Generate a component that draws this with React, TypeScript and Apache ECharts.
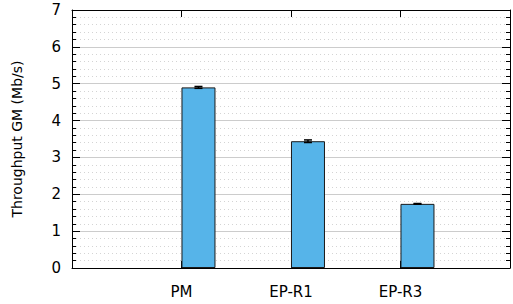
import React, { useEffect, useRef } from "react";
import * as echarts from "echarts";

const categories = ["PM", "EP-R1", "EP-R3"];
const throughput = [4.9, 3.44, 1.74];
const errors = [0.025, 0.035, 0.01];
const yTicks = [0, 1, 2, 3, 4, 5, 6, 7];

export default function App() {
  const ref = useRef<HTMLDivElement>(null);
  useEffect(() => {
    if (!ref.current) return;
    const chart = echarts.init(ref.current, undefined, { renderer: "svg" });
    const offset = 0.155;
    const font = "DejaVu Sans";
    const border = { show: true, onZero: false, lineStyle: { color: "#000", width: 1 } };
    chart.setOption({
      animation: false,
      grid: { left: 72, top: 10, width: 440, height: 258 },
      xAxis: [
        {
          type: "value",
          min: -1,
          max: 3,
          interval: 1,
          position: "bottom",
          axisLine: border,
          axisTick: { show: true, inside: true, length: 7, lineStyle: { color: "#000" } },
          axisLabel: {
            margin: 16,
            fontFamily: font,
            fontSize: 15,
            color: "#000",
            formatter: (v: number) => categories[v] ?? "",
          },
          splitLine: { show: false },
        },
        {
          type: "value",
          min: -1,
          max: 3,
          interval: 1,
          position: "top",
          axisLine: border,
          axisTick: { show: true, inside: true, length: 7, lineStyle: { color: "#000" } },
          axisLabel: { show: false },
          splitLine: { show: false },
        },
      ],
      yAxis: [
        {
          type: "value",
          min: yTicks[0],
          max: yTicks[yTicks.length - 1],
          interval: 1,
          position: "left",
          axisLine: border,
          axisTick: { show: true, inside: true, length: 8, lineStyle: { color: "#000" } },
          minorTick: { show: true, splitNumber: 5, length: 4, lineStyle: { color: "#000" } },
          axisLabel: { margin: 11, fontFamily: font, fontSize: 15, color: "#000" },
          splitLine: { show: true, lineStyle: { color: "#cccccc", width: 1 } },
          minorSplitLine: { show: true, lineStyle: { color: "#d4d4d4", type: [1, 3], width: 1 } },
          name: "Throughput GM (Mb/s)",
          nameLocation: "middle",
          nameGap: 48,
          nameTextStyle: { fontFamily: font, fontSize: 14, color: "#000" },
        },
        {
          type: "value",
          min: yTicks[0],
          max: yTicks[yTicks.length - 1],
          interval: 1,
          position: "right",
          axisLine: border,
          axisTick: { show: true, inside: true, length: 8, lineStyle: { color: "#000" } },
          minorTick: { show: true, splitNumber: 5, length: 4, lineStyle: { color: "#000" } },
          axisLabel: { show: false },
          splitLine: { show: false },
        },
      ],
      series: [
        {
          type: "bar",
          xAxisIndex: 0,
          yAxisIndex: 0,
          barWidth: 34,
          data: throughput.map((v, i) => [i + offset, v]),
          itemStyle: { color: "#56B4E9", borderColor: "#1a1a1a", borderWidth: 1 },
          z: 3,
        },
        {
          type: "custom",
          xAxisIndex: 0,
          yAxisIndex: 0,
          z: 4,
          data: throughput.map((v, i) => [i + offset, v - errors[i], v + errors[i]]),
          renderItem: (params: any, api: any) => {
            const x = api.value(0);
            const lo = api.coord([x, api.value(1)]);
            const hi = api.coord([x, api.value(2)]);
            const w = 4;
            const style = { stroke: "#000", lineWidth: 1.5 };
            return {
              type: "group",
              children: [
                { type: "line", shape: { x1: lo[0], y1: lo[1], x2: hi[0], y2: hi[1] }, style },
                { type: "line", shape: { x1: lo[0] - w, y1: lo[1], x2: lo[0] + w, y2: lo[1] }, style },
                { type: "line", shape: { x1: hi[0] - w, y1: hi[1], x2: hi[0] + w, y2: hi[1] }, style },
              ],
            };
          },
        },
      ],
    });
    return () => chart.dispose();
  }, []);
  return <div ref={ref} style={{ width: 513, height: 304, position: "absolute", left: 0, top: 0, background: "#fff" }} />;
}
